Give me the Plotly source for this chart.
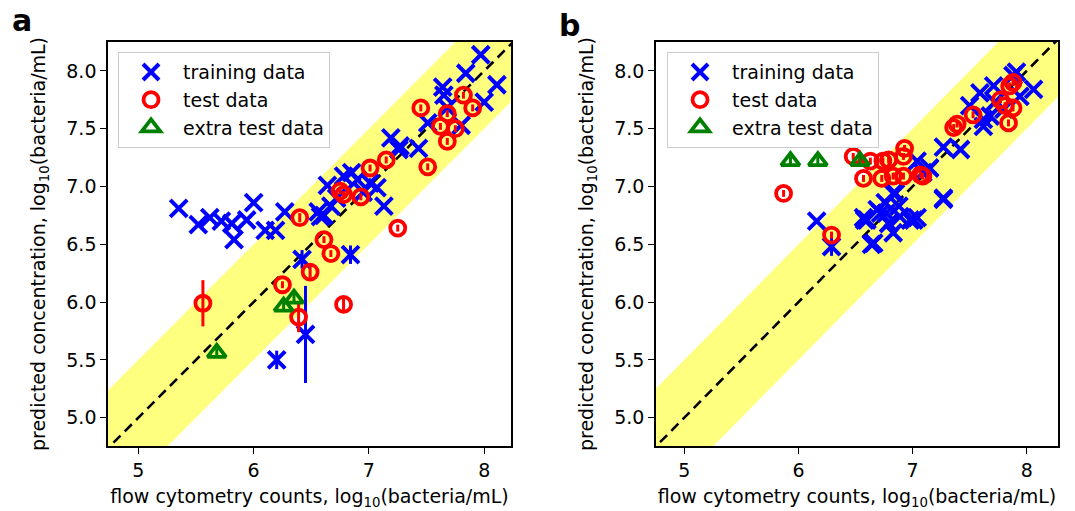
import plotly.graph_objects as go

# ---------------- data ----------------
# Panel a
train_a_x = [5.35, 5.52, 5.62, 5.72, 5.81, 5.83, 5.94, 6.00, 6.10, 6.19, 6.27, 6.42, 6.58, 6.84, 6.45, 6.20,
             7.97, 8.11, 7.84, 7.64, 7.65, 8.00, 7.68, 7.80, 7.51, 7.43, 7.19, 7.26, 7.13,
             7.27, 6.78, 6.90, 7.01, 7.07, 6.64, 6.56, 6.61, 6.67, 6.85, 6.72, 6.95]
train_a_y = [6.81, 6.67, 6.73, 6.70, 6.68, 6.54, 6.71, 6.86, 6.62, 6.62, 6.78, 6.37, 6.74, 6.41, 5.72, 5.50,
             8.14, 7.88, 7.98, 7.86, 7.79, 7.73, 7.68, 7.53, 7.55, 7.33, 7.42, 7.32, 6.83,
             7.35, 7.09, 7.06, 7.03, 6.99, 7.01, 6.78, 6.75, 6.83, 7.12, 6.90, 6.95]
train_a_err = [0, 0, 0, 0, 0, 0, 0, 0, 0, 0, 0, 0.08, 0, 0.08, 0.42, 0.08,
               0, 0, 0, 0, 0, 0, 0, 0, 0, 0, 0, 0, 0,
               0, 0, 0, 0, 0, 0, 0, 0, 0, 0, 0, 0]

test_a_x = [7.45, 7.82, 7.90, 7.68, 7.62, 7.75, 7.68, 7.51, 7.15, 7.01, 6.75, 6.78, 6.93, 6.40, 6.61, 6.67,
            7.25, 6.49, 6.78, 6.39, 5.56, 6.25]
test_a_y = [7.68, 7.79, 7.68, 7.63, 7.52, 7.50, 7.39, 7.17, 7.23, 7.16, 6.96, 6.93, 6.91, 6.73, 6.54, 6.42,
            6.64, 6.26, 5.98, 5.87, 5.99, 6.15]
test_a_err = [0.03, 0.03, 0.03, 0.03, 0.03, 0.03, 0.03, 0.03, 0.03, 0.03, 0.03, 0.03, 0.03, 0.04, 0.03, 0.03,
              0.03, 0.05, 0.07, 0.13, 0.20, 0.03]

extra_a_x = [5.68, 6.26, 6.35]
extra_a_y = [5.56, 5.96, 6.03]
extra_a_err = [0.04, 0.04, 0.04]

# Panel b
train_b_x = [6.16, 6.29, 6.64, 6.60, 6.72, 6.76, 6.85, 6.79, 6.83, 6.89, 6.98, 7.04, 7.27, 6.88, 6.69, 6.77,
             6.58, 7.01, 6.66, 7.09, 7.27, 7.42, 7.62, 7.50, 7.59, 7.71, 7.91, 8.06, 7.94, 7.80, 7.68,
             7.15, 7.04, 7.27, 7.72, 7.88, 7.62, 6.57, 6.83]
train_b_y = [6.70, 6.48, 6.50, 6.71, 6.77, 6.86, 6.94, 6.68, 6.60, 6.74, 6.71, 6.73, 6.89, 6.83, 6.80, 6.77,
             6.71, 6.71, 6.51, 7.12, 7.34, 7.32, 7.52, 7.70, 7.81, 7.87, 7.99, 7.84, 7.78, 7.67, 7.61,
             7.16, 7.22, 6.90, 7.73, 7.96, 7.58, 6.73, 6.94]
train_b_err = [0, 0.08] + [0] * 37

test_b_x = [5.87, 6.48, 6.63, 6.57, 6.74, 6.79, 6.93, 6.92, 6.92, 7.07, 6.29, 6.83, 6.73, 7.88, 7.85, 7.77,
            7.81, 7.88, 7.84, 7.53, 7.39, 7.36, 7.09]
test_b_y = [6.94, 7.26, 7.22, 7.07, 7.22, 7.23, 7.33, 7.26, 7.09, 7.10, 6.58, 7.09, 7.07, 7.90, 7.87, 7.75,
            7.70, 7.68, 7.55, 7.62, 7.54, 7.51, 7.09]
test_b_err = [0.03] * 23

extra_b_x = [5.93, 6.17, 6.54]
extra_b_y = [7.22, 7.22, 7.22]
extra_b_err = [0.04, 0.04, 0.04]

# identity line and tolerance band
line_x = [4.0, 9.0]
band_half = 0.5

BLUE = "#0000ff"
RED = "#ff0000"
GREEN = "#008000"
FONT = "DejaVu Sans"
FS = 19

fig = go.Figure()


def add_panel(xa, ya, legend, tx, ty, te, rx, ry, re, gx, gy, ge):
    bx = [line_x[0], line_x[1], line_x[1], line_x[0]]
    by = [line_x[0] - band_half, line_x[1] - band_half, line_x[1] + band_half, line_x[0] + band_half]
    fig.add_trace(go.Scatter(x=bx, y=by, fill="toself", fillcolor="rgba(255,255,0,0.5)",
                             mode="lines", line=dict(width=0), showlegend=False,
                             hoverinfo="skip", xaxis=xa, yaxis=ya))
    fig.add_trace(go.Scatter(x=line_x, y=line_x, mode="lines",
                             line=dict(color="black", width=2.6, dash="10px,6px"),
                             showlegend=False, xaxis=xa, yaxis=ya))
    fig.add_trace(go.Scatter(x=tx, y=ty, mode="markers", name="training data",
                             marker=dict(symbol="x-thin-open", size=17, color=BLUE,
                                         line=dict(color=BLUE, width=4)),
                             error_y=dict(type="data", array=te, visible=True, color=BLUE,
                                          thickness=3, width=0),
                             legend=legend, xaxis=xa, yaxis=ya))
    fig.add_trace(go.Scatter(x=rx, y=ry, mode="markers", name="test data",
                             marker=dict(symbol="circle-open", size=15, color=RED,
                                         line=dict(color=RED, width=3.8)),
                             error_y=dict(type="data", array=re, visible=True, color=RED,
                                          thickness=3, width=0),
                             legend=legend, xaxis=xa, yaxis=ya))
    fig.add_trace(go.Scatter(x=gx, y=gy, mode="markers", name="extra test data",
                             marker=dict(symbol="triangle-up-open", size=16, color=GREEN,
                                         line=dict(color=GREEN, width=3.8)),
                             error_y=dict(type="data", array=ge, visible=True, color=GREEN,
                                          thickness=3, width=0),
                             legend=legend, xaxis=xa, yaxis=ya))


add_panel("x", "y", "legend", train_a_x, train_a_y, train_a_err, test_a_x, test_a_y, test_a_err,
          extra_a_x, extra_a_y, extra_a_err)
add_panel("x2", "y2", "legend2", train_b_x, train_b_y, train_b_err, test_b_x, test_b_y, test_b_err,
          extra_b_x, extra_b_y, extra_b_err)

axis_common = dict(showgrid=False, zeroline=False, showline=True, mirror=True,
                   linecolor="black", linewidth=1.5, ticks="outside", ticklen=6,
                   tickwidth=1.4, tickcolor="black",
                   tickfont=dict(family=FONT, size=FS, color="black"))
xtitle = "flow cytometry counts, log<sub>10</sub>(bacteria/mL)"
ytitle = "predicted concentration, log<sub>10</sub>(bacteria/mL)"
xticks = [5, 6, 7, 8]
yticks = [5.0, 5.5, 6.0, 6.5, 7.0, 7.5, 8.0]

fig.update_layout(
    width=1075, height=511,
    margin=dict(l=0, r=0, t=0, b=0),
    paper_bgcolor="white", plot_bgcolor="white",
    font=dict(family=FONT, size=FS, color="black"),
    xaxis=dict(domain=[0.1005, 0.4753], range=[4.737, 8.232], tickvals=xticks,
               title=dict(text=xtitle, font=dict(size=FS), standoff=10), anchor="y", **axis_common),
    yaxis=dict(domain=[0.1272, 0.9178], range=[4.755, 8.25], tickvals=yticks, tickformat=".1f",
               title=dict(text=ytitle, font=dict(size=FS), standoff=16), anchor="x", **axis_common),
    xaxis2=dict(domain=[0.6102, 0.9842], range=[4.752, 8.274], tickvals=xticks,
                title=dict(text=xtitle, font=dict(size=FS), standoff=10), anchor="y2", **axis_common),
    yaxis2=dict(domain=[0.1272, 0.9178], range=[4.755, 8.25], tickvals=yticks, tickformat=".1f",
                title=dict(text=ytitle, font=dict(size=FS), standoff=16), anchor="x2", **axis_common),
    legend=dict(x=0.1098, y=0.898, xanchor="left", yanchor="top", bgcolor="white",
                bordercolor="#cccccc", borderwidth=1, font=dict(family=FONT, size=FS),
                itemwidth=54),
    legend2=dict(x=0.6205, y=0.898, xanchor="left", yanchor="top", bgcolor="white",
                 bordercolor="#cccccc", borderwidth=1, font=dict(family=FONT, size=FS),
                 itemwidth=54),
    annotations=[
        dict(text="<b>a</b>", x=0.009, y=0.998, xref="paper", yref="paper", xanchor="left",
             yanchor="top", showarrow=False, font=dict(family=FONT, size=30, color="black")),
        dict(text="<b>b</b>", x=0.518, y=0.988, xref="paper", yref="paper", xanchor="left",
             yanchor="top", showarrow=False, font=dict(family=FONT, size=30, color="black")),
    ],
)

fig.write_html("out.html")
